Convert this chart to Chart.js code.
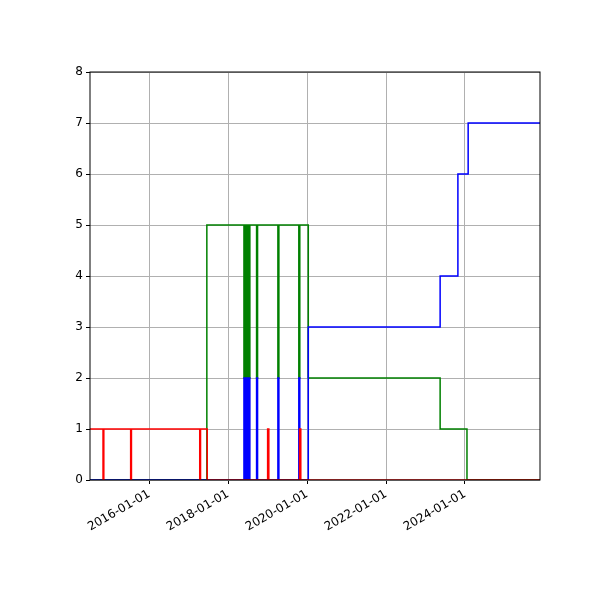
<!DOCTYPE html>
<html><head><script src="https://cdn.jsdelivr.net/npm/chart.js@4"></script>
<style>body{margin:0;background:#fff}#w{width:600px;height:600px}</style></head>
<body><div id="w"><canvas id="c"></canvas></div>
<script>
const xTicks=[2016,2018,2020,2022,2024];
const yTicks=[0,1,2,3,4,5,6,7,8];
const redX=[2014.5,2014.83,2014.85,2015.53,2015.55,2017.28,2017.30,2017.47,2019.0,2019.03,2019.81,2019.84,2025.9];
const redY=[1,0,1,0,1,0,1,0,1,0,1,0,0];
const greenX=[2014.5,2017.46,2018.40,2018.41,2018.42,2018.43,2018.44,2018.45,2018.46,2018.47,2018.48,2018.49,2018.50,2018.51,2018.52,2018.53,2018.54,2018.55,2018.56,2018.72,2018.745,2019.26,2019.285,2019.79,2019.815,2020.03,2023.37,2024.05,2025.9];
const greenY=[0,5,2,5,2,5,2,5,2,5,2,5,2,5,2,5,2,5,5,2,5,2,5,2,5,2,1,0,0];
const blueX=[2014.5,2018.40,2018.41,2018.42,2018.43,2018.44,2018.45,2018.46,2018.47,2018.48,2018.49,2018.50,2018.51,2018.52,2018.53,2018.54,2018.55,2018.56,2018.72,2018.745,2019.26,2019.285,2019.79,2019.815,2020.03,2023.37,2023.82,2024.08,2025.9];
const blueY=[0,2,0,2,0,2,0,2,0,2,0,2,0,2,0,2,0,0,2,0,2,0,2,0,3,4,6,7,7];
const pts=(xs,ys)=>xs.map((x,i)=>({x,y:ys[i]}));
const ds=(label,xs,ys,color)=>({label,data:pts(xs,ys),borderColor:color,borderWidth:1.5,stepped:'before',pointRadius:0,fill:false});
const frame={id:'frame',afterDraw(ch){const a=ch.chartArea,c=ch.ctx;c.save();c.strokeStyle='#000';c.lineWidth=1;c.strokeRect(a.left,a.top,a.right-a.left,a.bottom-a.top);c.restore();}};
new Chart(document.getElementById('c'),{type:'line',
data:{datasets:[ds('red',redX,redY,'#ff0000'),ds('blue',blueX,blueY,'#0000ff'),ds('green',greenX,greenY,'#008000')]},
options:{animation:false,responsive:true,maintainAspectRatio:false,
layout:{padding:{top:72,right:60,left:0,bottom:0}},
plugins:{legend:{display:false},tooltip:{enabled:false}},
scales:{
x:{type:'linear',min:2014.5,max:2025.9,
afterBuildTicks(s){s.ticks=xTicks.map(v=>({value:v}));},
afterFit(s){s.height=120;},
ticks:{autoSkip:false,maxRotation:30,minRotation:30,color:'#000',font:{family:'DejaVu Sans',size:12},callback:v=>v+'-01-01'},
grid:{color:'#b0b0b0',tickColor:'#000',tickLength:4},border:{display:false}},
y:{min:0,max:8,
afterBuildTicks(s){s.ticks=yTicks.map(v=>({value:v}));},
afterFit(s){s.width=90;},
ticks:{color:'#000',font:{family:'DejaVu Sans',size:12}},
grid:{color:'#b0b0b0',tickColor:'#000',tickLength:4},border:{display:false}}}},
plugins:[frame]});
</script></body></html>
